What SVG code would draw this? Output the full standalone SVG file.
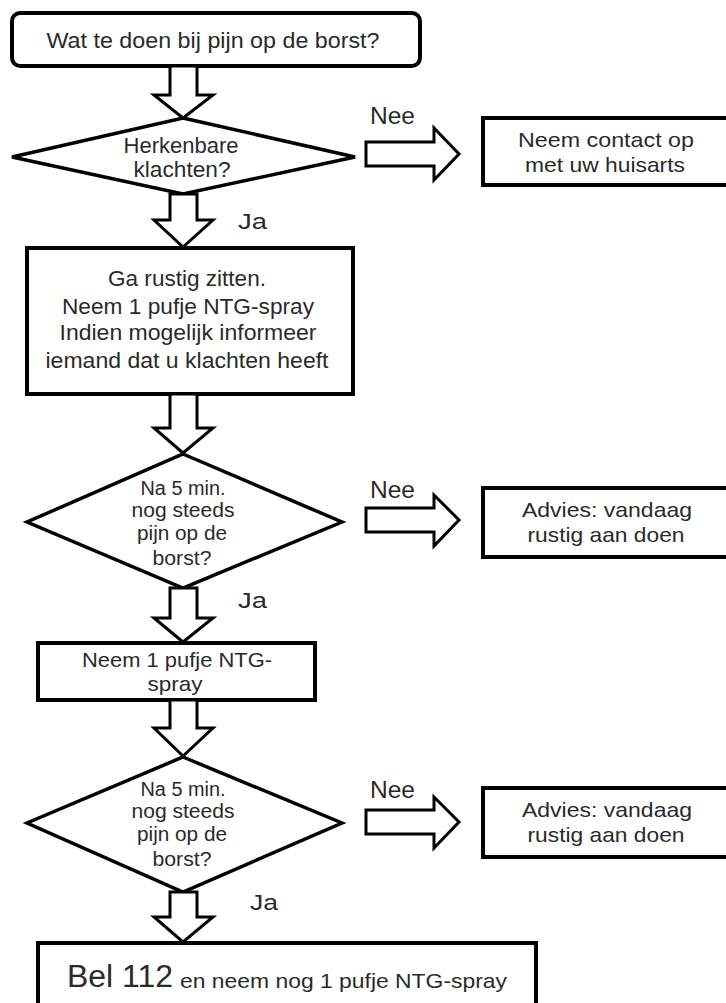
<svg xmlns="http://www.w3.org/2000/svg" width="726" height="1003" viewBox="0 0 726 1003">
<style>
.box{fill:#fff;stroke:#000;stroke-width:4}
.dia{fill:#fff;stroke:#000;stroke-width:3.5;stroke-linejoin:miter}
.arr{fill:#fff;stroke:#000;stroke-width:3;stroke-linejoin:miter}
text{font-family:"Liberation Sans",Arial,sans-serif;fill:#2a2a2a;lengthAdjust:spacingAndGlyphs}
.c{text-anchor:middle}
.f22{font-size:22px}.f21{font-size:21px}.f20{font-size:20px}.f23{font-size:23px}
</style>
<rect width="726" height="1003" fill="#fff"/>
<g id="start">
<rect class="box" x="12" y="13" width="408" height="53" rx="8"/>
<text class="c f22" x="213" y="48" textLength="333" lengthAdjust="spacingAndGlyphs">Wat te doen bij pijn op de borst?</text>
</g>
<g id="q1">
<polygon class="dia" points="183,118 355,157 183,194 12,157"/>
<text class="c f22" x="181" y="153" textLength="115" lengthAdjust="spacingAndGlyphs">Herkenbare</text>
<text class="c f22" x="182" y="177" textLength="97" lengthAdjust="spacingAndGlyphs">klachten?</text>
</g>
<g id="huisarts">
<rect class="box" x="483" y="118" width="260" height="67"/>
<text class="c f21" x="606" y="147" textLength="176" lengthAdjust="spacingAndGlyphs">Neem contact op</text>
<text class="c f21" x="605" y="172" textLength="160" lengthAdjust="spacingAndGlyphs">met uw huisarts</text>
</g>
<g id="stap1">
<rect class="box" x="27" y="248" width="326" height="146"/>
<text class="c f22" x="187" y="286" textLength="158" lengthAdjust="spacingAndGlyphs">Ga rustig  zitten.</text>
<text class="c f22" x="188" y="314" textLength="252" lengthAdjust="spacingAndGlyphs">Neem 1 pufje NTG-spray</text>
<text class="c f22" x="188" y="340" textLength="257" lengthAdjust="spacingAndGlyphs">Indien mogelijk informeer</text>
<text class="c f22" x="187" y="368" textLength="283" lengthAdjust="spacingAndGlyphs">iemand dat u klachten heeft</text>
</g>
<g id="q2">
<polygon class="dia" points="183,454 342,522 183,588 27,522"/>
<text class="c f20" x="183" y="495" textLength="85" lengthAdjust="spacingAndGlyphs">Na 5 min.</text>
<text class="c f20" x="183" y="517" textLength="103" lengthAdjust="spacingAndGlyphs">nog steeds</text>
<text class="c f20" x="182" y="540" textLength="90" lengthAdjust="spacingAndGlyphs">pijn op de</text>
<text class="c f20" x="182" y="565" textLength="59" lengthAdjust="spacingAndGlyphs">borst?</text>
</g>
<g id="advies1">
<rect class="box" x="483" y="488" width="260" height="69"/>
<text class="c f21" x="607" y="517" textLength="170" lengthAdjust="spacingAndGlyphs">Advies: vandaag</text>
<text class="c f21" x="606" y="542" textLength="157" lengthAdjust="spacingAndGlyphs">rustig aan doen</text>
</g>
<g id="stap2">
<rect class="box" x="38" y="643" width="277" height="57"/>
<text class="c f21" x="177" y="667" textLength="190" lengthAdjust="spacingAndGlyphs">Neem 1 pufje NTG-</text>
<text class="c f21" x="175" y="691" textLength="55" lengthAdjust="spacingAndGlyphs">spray</text>
</g>
<g id="q3">
<polygon class="dia" points="183,757 342,823 183,892 27,823"/>
<text class="c f20" x="183" y="796" textLength="85" lengthAdjust="spacingAndGlyphs">Na 5 min.</text>
<text class="c f20" x="183" y="818" textLength="103" lengthAdjust="spacingAndGlyphs">nog steeds</text>
<text class="c f20" x="182" y="841" textLength="90" lengthAdjust="spacingAndGlyphs">pijn op de</text>
<text class="c f20" x="182" y="866" textLength="59" lengthAdjust="spacingAndGlyphs">borst?</text>
</g>
<g id="advies2">
<rect class="box" x="483" y="788" width="260" height="69"/>
<text class="c f21" x="607" y="817" textLength="170" lengthAdjust="spacingAndGlyphs">Advies: vandaag</text>
<text class="c f21" x="606" y="842" textLength="157" lengthAdjust="spacingAndGlyphs">rustig aan doen</text>
</g>
<g id="bel112">
<rect class="box" x="38" y="943" width="498" height="80"/>
<text x="67" y="987" style="font-size:31px" textLength="106" lengthAdjust="spacingAndGlyphs">Bel 112</text>
<text class="f21" x="180" y="988" textLength="327" lengthAdjust="spacingAndGlyphs">en neem nog 1 pufje NTG-spray</text>
</g>
<g id="connectors">
<polygon class="arr" points="170,66 197,66 197,95 213,95 183,118 154,95 170,95"/>
<polygon class="arr" points="170,194 197,194 197,220 213,220 183,247 154,220 170,220"/>
<polygon class="arr" points="170,394 197,394 197,428 213,428 183,453 154,428 170,428"/>
<polygon class="arr" points="170,588 197,588 197,618 213,618 183,642 154,618 170,618"/>
<polygon class="arr" points="170,700 197,700 197,728 213,728 183,756 154,728 170,728"/>
<polygon class="arr" points="170,892 197,892 197,917 213,917 183,942 154,917 170,917"/>
<polygon class="arr" points="366,142 434,142 434,128 459,154 434,180 434,166 366,166"/>
<polygon class="arr" points="366,508 434,508 434,495 459,520 434,546 434,532 366,532"/>
<polygon class="arr" points="366,810 434,810 434,797 459,822 434,848 434,834 366,834"/>
<text class="f23" x="370" y="124" textLength="45" lengthAdjust="spacingAndGlyphs">Nee</text>
<text class="f23" x="370" y="498" textLength="45" lengthAdjust="spacingAndGlyphs">Nee</text>
<text class="f23" x="370" y="798" textLength="45" lengthAdjust="spacingAndGlyphs">Nee</text>
<text class="f22" x="238" y="229" textLength="29" lengthAdjust="spacingAndGlyphs">Ja</text>
<text class="f22" x="238" y="608" textLength="29" lengthAdjust="spacingAndGlyphs">Ja</text>
<text class="f22" x="250" y="910" textLength="28" lengthAdjust="spacingAndGlyphs">Ja</text>
</g>
</svg>
